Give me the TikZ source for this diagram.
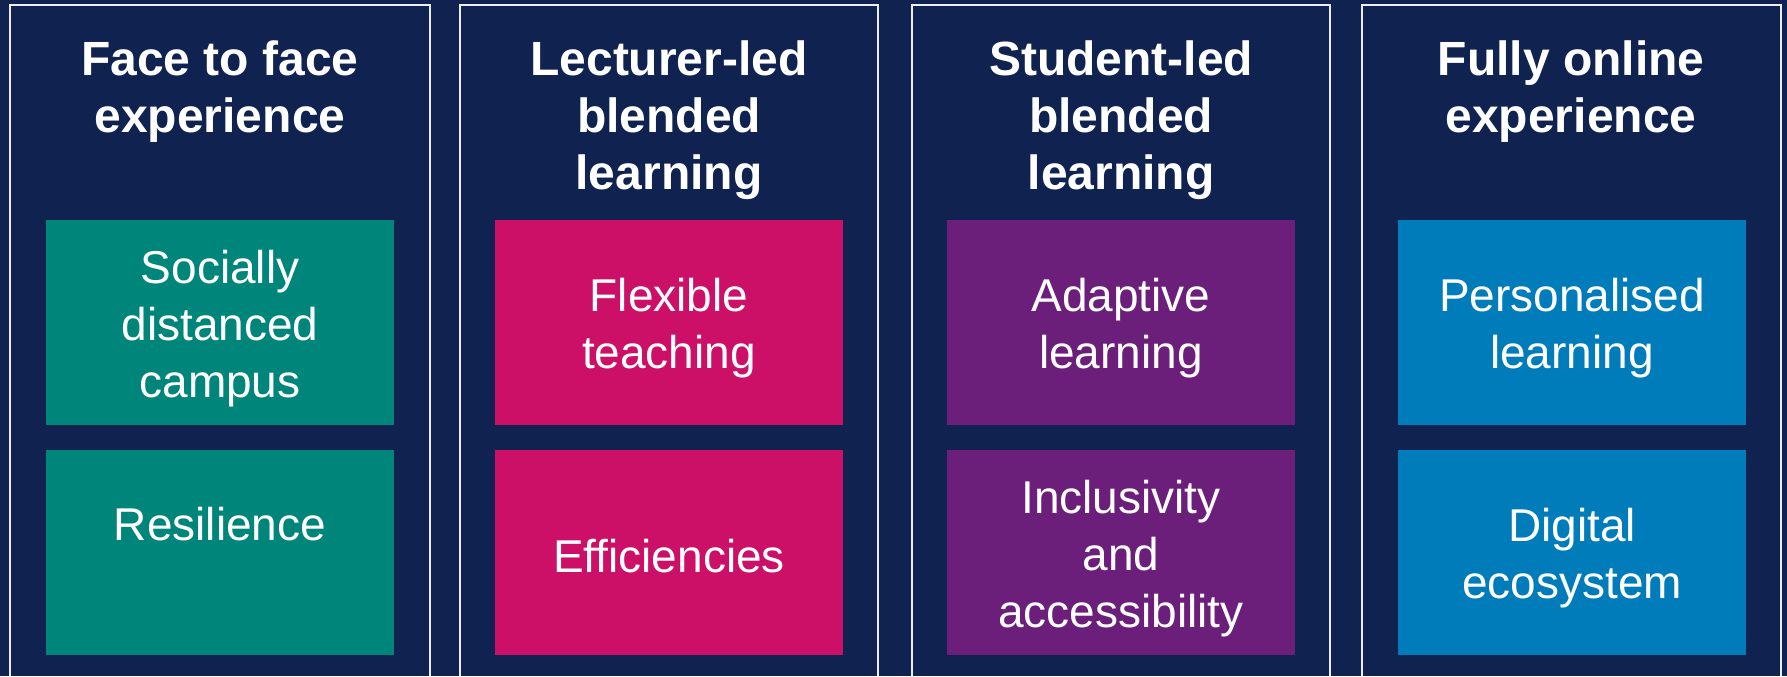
\documentclass[tikz,border=0pt]{standalone}
\usepackage{fontspec}
\setmainfont{Liberation Sans}
\usepackage{xcolor}

\definecolor{navyBack}{RGB}{15,34,80}
\definecolor{tealBox}{RGB}{0,133,122}
\definecolor{pinkBox}{RGB}{204,16,104}
\definecolor{purpleBox}{RGB}{108,31,122}
\definecolor{blueBox}{RGB}{0,124,186}

\begin{document}
\begin{tikzpicture}[x = 0.5pt, y = -0.5pt,
						panel/.style = {draw = white!92!navyBack, line width = 1pt},
						heading/.style = {anchor = north, inner sep = 0pt, align = center, text = white,
							font = \fontsize{24}{28.5}\selectfont\bfseries},
						tile/.style = {fill = #1, inner sep = 0pt,
							minimum width = 174pt, minimum height = 102.5pt},
						tile/.default = tealBox,
						tileText/.style = {inner sep = 0pt, align = center, text = white,
							font = \fontsize{23}{28.5}\selectfont},
						]
	
		% Background
		\fill[navyBack] (0, 0) rectangle (1787, 676);
		\useasboundingbox (0, 0) rectangle (1787, 676);
		
		% Panel outlines (open at the bottom)
		\draw[panel] (10, 676) |- (430, 5) -- (430, 676);
		\draw[panel] (460, 676) |- (878, 5) -- (878, 676);
		\draw[panel] (912, 676) |- (1330, 5) -- (1330, 676);
		\draw[panel] (1362, 676) |- (1781, 5) -- (1781, 676);
		
		% Headings
		\node[heading] (faceTitle) at (220, 40) {Face to face\\experience};
		\node[heading] (lecturerTitle) at (669, 40) {Lecturer-led\\blended\\learning};
		\node[heading] (studentTitle) at (1121, 40) {Student-led\\blended\\learning};
		\node[heading] (onlineTitle) at (1571, 40) {Fully online\\experience};
		
		% Face to face experience
		\node[tile = tealBox] (campus) at (220, 322.5) {};
		\node[tileText] (campusText) at ([yshift = -3pt]campus.center) {Socially\\distanced\\campus};
		\node[tile = tealBox] (resilience) at (220, 552.5) {};
		\node[tileText] (resilienceText) at ([yshift = 14pt]resilience.center) {Resilience};
		
		% Lecturer-led blended learning
		\node[tile = pinkBox] (flexible) at (669, 322.5) {};
		\node[tileText] (flexibleText) at ([yshift = -3pt]flexible.center) {Flexible\\teaching};
		\node[tile = pinkBox] (efficiencies) at (669, 552.5) {};
		\node[tileText] (efficienciesText) at ([yshift = -2pt]efficiencies.center) {Efficiencies};
		
		% Student-led blended learning
		\node[tile = purpleBox] (adaptive) at (1121, 322.5) {};
		\node[tileText] (adaptiveText) at ([yshift = -3pt]adaptive.center) {Adaptive\\learning};
		\node[tile = purpleBox] (inclusivity) at (1121, 552.5) {};
		\node[tileText] (inclusivityText) at ([yshift = -3pt]inclusivity.center) {Inclusivity\\and\\accessibility};
		
		% Fully online experience
		\node[tile = blueBox] (personalised) at (1572, 322.5) {};
		\node[tileText] (personalisedText) at ([yshift = -3pt]personalised.center) {Personalised\\learning};
		\node[tile = blueBox] (ecosystem) at (1572, 552.5) {};
		\node[tileText] (ecosystemText) at ([yshift = -3pt]ecosystem.center) {Digital\\ecosystem};
		
	\end{tikzpicture}
\end{document}
